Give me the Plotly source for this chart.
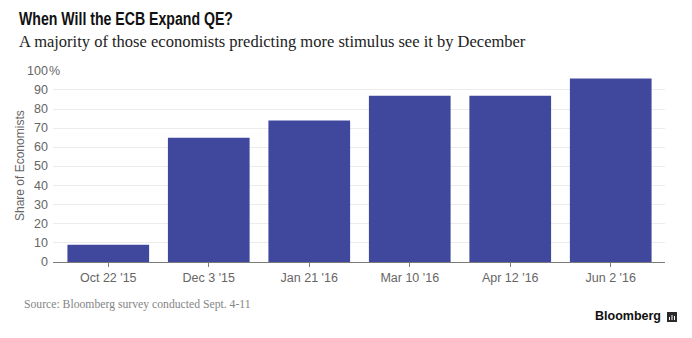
import plotly.graph_objects as go

categories = ["Oct 22 '15", "Dec 3 '15", "Jan 21 '16", "Mar 10 '16", "Apr 12 '16", "Jun 2 '16"]
share = [9, 65, 74, 87, 87, 96]
y_ticks = [0, 10, 20, 30, 40, 50, 60, 70, 80, 90, 100]

W, H = 692, 338
L, R, T, B = 53, 27, 70, 76
PH = H - T - B

fig = go.Figure()
fig.add_trace(go.Bar(x=categories, y=share, marker=dict(color="#40489d", line=dict(width=0)),
                     hoverinfo="skip"))

sans = "Liberation Sans, Arial, sans-serif"
serif = "Liberation Serif, Times New Roman, serif"
tick_col = "#666666"

fig.update_layout(
    width=W, height=H,
    margin=dict(l=L, r=R, t=T, b=B, pad=0),
    paper_bgcolor="white", plot_bgcolor="white",
    bargap=0.187, showlegend=False,
    xaxis=dict(range=[-0.55, 5.54], showgrid=False, showline=True, linecolor="#7a7a7a", linewidth=1.3,
               ticks="outside", ticklen=4, tickcolor="#7a7a7a",
               tickfont=dict(family=sans, size=12.5, color=tick_col), fixedrange=True),
    yaxis=dict(range=[0, 100.4], tickvals=y_ticks, showticklabels=False,
               showgrid=True, gridcolor="#ececec", gridwidth=1,
               zeroline=False, showline=False, fixedrange=True),
)


def px_x(p):
    return (p - L) / (W - L - R)


def px_y(p):
    return (H - B - p) / PH


annotations = []
for v in y_ticks:
    annotations.append(dict(x=px_x(49.5), xref="paper", y=v, yref="y", text=str(v),
                            showarrow=False, xanchor="right", yanchor="middle",
                            font=dict(family=sans, size=12.5, color=tick_col)))
annotations.append(dict(x=px_x(46.5), xref="paper", y=100, yref="y", text="%",
                        showarrow=False, xanchor="left", yanchor="middle",
                        font=dict(family=sans, size=12.5, color=tick_col)))
annotations.append(dict(x=px_x(20), xref="paper", y=0.5, yref="paper", text="Share of Economists",
                        textangle=-90, showarrow=False, xanchor="center", yanchor="middle",
                        font=dict(family=sans, size=12, color=tick_col)))
annotations.append(dict(x=px_x(17), xref="paper", y=px_y(31.3), yref="paper",
                        text="<b>When Will the ECB Expand QE?</b>", showarrow=False,
                        xanchor="left", yanchor="bottom",
                        font=dict(family=sans, size=18.6, color="#111111")))
annotations.append(dict(x=px_x(17), xref="paper", y=px_y(53), yref="paper",
                        text="A majority of those economists predicting more stimulus see it by December",
                        showarrow=False, xanchor="left", yanchor="bottom",
                        font=dict(family=serif, size=16.5, color="#222222")))
annotations.append(dict(x=px_x(21.5), xref="paper", y=px_y(312.5), yref="paper",
                        text="Source: Bloomberg survey conducted Sept. 4-11",
                        showarrow=False, xanchor="left", yanchor="bottom",
                        font=dict(family=serif, size=11.7, color="#858585")))
annotations.append(dict(x=px_x(663), xref="paper", y=px_y(324.5), yref="paper",
                        text="<b>Bloomberg</b>", showarrow=False, xanchor="right", yanchor="bottom",
                        font=dict(family=sans, size=12.5, color="#111111")))
fig.update_layout(annotations=annotations)

# logo icon
fig.add_shape(type="rect", xref="paper", yref="paper",
              x0=px_x(667), x1=px_x(677), y0=px_y(322), y1=px_y(312),
              fillcolor="#2a2a2a", line=dict(width=0))
for bx, top in [(669.5, 317), (672, 315), (674.5, 316)]:
    fig.add_shape(type="line", xref="paper", yref="paper",
                  x0=px_x(bx), x1=px_x(bx), y0=px_y(320), y1=px_y(top),
                  line=dict(color="white", width=1))

post = """
var els = document.querySelectorAll('text.annotation-text');
els.forEach(function(el){
  if (el.textContent.indexOf('When Will') === 0) {
    var bb = el.getBBox();
    var x0 = bb.x;
    var s = 214 / bb.width;
    el.setAttribute('transform', 'translate(' + x0 + ',0) scale(' + s + ',1) translate(' + (-x0) + ',0)');
  }
});
"""

fig.write_html("out.html", post_script=post)
